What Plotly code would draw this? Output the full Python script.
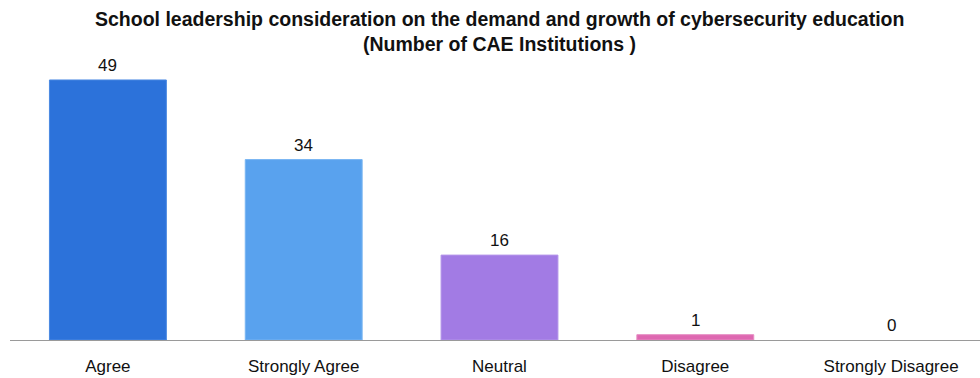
import plotly.graph_objects as go

categories = ["Agree", "Strongly Agree", "Neutral", "Disagree", "Strongly Disagree"]
counts = [49, 34, 16, 1, 0]
bar_colors = ["#2C72DA", "#59A2EE", "#A27BE4", "#DE68B1", "#DE68B1"]
edge_colors = ["#4A88E2", "#78B5F2", "#B597EA", "#E68CC3", "#E68CC3"]

title_line1 = "School leadership consideration on the demand and growth of cybersecurity education"
title_line2 = "(Number of CAE Institutions )"

FONT = "Liberation Sans, Arial, Helvetica, sans-serif"

# plot-area geometry in pixels, used to place the title lines
PLOT_LEFT, PLOT_TOP, PLOT_W, PLOT_H = 9.5, 70, 970.5, 270
title_cx = (499 - PLOT_LEFT) / PLOT_W

fig = go.Figure()
fig.add_trace(go.Bar(
    x=categories,
    y=counts,
    marker=dict(
        color=bar_colors,
        line=dict(color=edge_colors, width=[1 if v > 0 else 0 for v in counts]),
    ),
    hoverinfo="x+y",
))

# value labels above each bar
for cat, val in zip(categories, counts):
    fig.add_annotation(
        x=cat, y=val, text=str(val), showarrow=False,
        yanchor="bottom", yshift=3,
        font=dict(family=FONT, size=17, color="#111111"),
    )

# two-line bold title
for line, cy in ((title_line1, 19.5), (title_line2, 44)):
    fig.add_annotation(
        xref="paper", yref="paper", x=title_cx, y=1 + (PLOT_TOP - cy) / PLOT_H,
        text="<b>" + line + "</b>", showarrow=False,
        xanchor="center", yanchor="middle",
        font=dict(family=FONT, size=19.5, color="#111111"),
    )

fig.update_layout(
    width=980, height=378,
    margin=dict(l=PLOT_LEFT, r=0, t=PLOT_TOP, b=378 - PLOT_TOP - PLOT_H),
    paper_bgcolor="white", plot_bgcolor="white",
    bargap=0.403,
    showlegend=False,
    font=dict(family=FONT, size=17, color="#111111"),
)
fig.update_xaxes(
    type="category", range=[-0.5, 4.454],
    showline=True, linecolor="#9A9A9A", linewidth=1,
    ticks="", ticklabelstandoff=11,
    tickfont=dict(family=FONT, size=17, color="#111111"),
    showgrid=False, zeroline=False,
)
fig.update_yaxes(
    range=[0, 50.88], visible=False, showgrid=False, zeroline=False,
)

fig.write_html("out.html")
